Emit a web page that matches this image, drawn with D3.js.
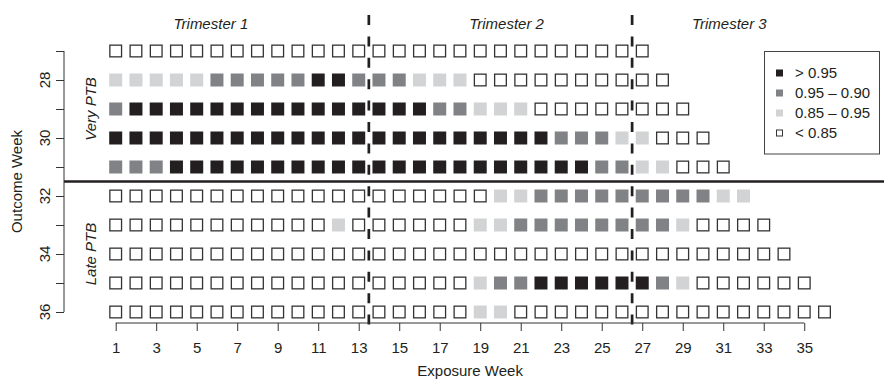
<!DOCTYPE html>
<html>
<head>
<meta charset="utf-8">
<script src="https://cdn.jsdelivr.net/npm/d3@7"></script>
<style>
html,body{margin:0;padding:0;background:#fff;}
svg{display:block;font-family:"Liberation Sans",Arial,Helvetica,sans-serif;}
</style>
</head>
<body>
<svg id="chart" width="884" height="381"></svg>
<script>
// ---- data ----
const outcomeWeeks = [27, 28, 29, 30, 31, 32, 33, 34, 35, 36];
// level codes: 0 = < 0.85, 1 = 0.85 – 0.95, 2 = 0.95 – 0.90, 3 = > 0.95
const row27 = [0,0,0,0,0,0,0,0,0,0, 0,0,0,0,0,0,0,0,0,0, 0,0,0,0,0,0,0];
const row28 = [1,1,1,1,1,2,2,2,2,2, 3,3,2,2,2,1,1,1,0,0, 0,0,0,0,0,0,0,0];
const row29 = [2,3,3,3,3,3,3,3,3,3, 3,3,3,3,3,3,2,2,1,1, 1,0,0,0,0,0,0,0,0];
const row30 = [3,3,3,3,3,3,3,3,3,3, 3,3,3,3,3,3,3,3,3,3, 3,3,2,2,2,1,1,0,0,0];
const row31 = [2,2,2,3,3,3,3,3,3,3, 3,3,3,3,3,3,3,3,3,3, 3,3,3,3,2,2,1,1,0,0, 0];
const row32 = [0,0,0,0,0,0,0,0,0,0, 0,0,0,0,0,0,0,0,0,1, 1,2,2,2,2,2,2,2,2,2, 1,1];
const row33 = [0,0,0,0,0,0,0,0,0,0, 0,1,0,0,0,0,0,0,1,1, 2,2,2,2,2,2,2,2,1,0, 0,0,0];
const row34 = [0,0,0,0,0,0,0,0,0,0, 0,0,0,0,0,0,0,0,0,0, 0,0,0,0,0,0,0,0,0,0, 0,0,0,0];
const row35 = [0,0,0,0,0,0,0,0,0,0, 0,0,0,0,0,0,0,0,1,2, 2,3,3,3,3,3,3,2,1,0, 0,0,0,0,0];
const row36 = [0,0,0,0,0,0,0,0,0,0, 0,0,0,0,0,0,0,0,1,1, 0,0,0,0,0,0,0,0,0,0, 0,0,0,0,0,0];
const rows = [row27, row28, row29, row30, row31, row32, row33, row34, row35, row36];

const legendLabels = ["> 0.95", "0.95 \u2013 0.90", "0.85 \u2013 0.95", "< 0.85"];
const legendLevels = [3, 2, 1, 0];
const xTickWeeks = [1,3,5,7,9,11,13,15,17,19,21,23,25,27,29,31,33,35];
const yTickWeeks = [27,28,29,30,31,32,33,34,35,36];
const yLabelWeeks = [28,30,32,34,36];
const trimesterLabels = ["Trimester 1", "Trimester 2", "Trimester 3"];
const trimesterLabelWeeks = [5.7, 20.3, 31.3];
const trimesterBounds = [13.5, 26.5];
const groupLabels = ["Very PTB", "Late PTB"];
const groupCenters = [29, 34];
const groupBoundary = 31.5;

// ---- styles ----
const fills = ["#ffffff", "#d1d3d4", "#808285", "#231f20"];
const ink = "#231f20";

const svg = d3.select("#chart");
const x = d3.scaleLinear().domain([1, 36]).range([115.7, 824.5]);
const y = d3.scaleLinear().domain([27, 36]).range([51, 312]);

const cells = [];
rows.forEach((r, i) => r.forEach((lv, j) => cells.push({o: outcomeWeeks[i], e: j + 1, lv})));

const S = 13;
svg.append("g").selectAll("rect").data(cells).join("rect")
  .attr("x", d => d.lv === 0 ? x(d.e) - S/2 + 0.65 : x(d.e) - S/2)
  .attr("y", d => d.lv === 0 ? y(d.o) - S/2 + 0.65 : y(d.o) - S/2)
  .attr("width", d => d.lv === 0 ? S - 1.3 : S)
  .attr("height", d => d.lv === 0 ? S - 1.3 : S)
  .attr("fill", d => fills[d.lv])
  .attr("stroke", d => d.lv === 0 ? "#333" : "none")
  .attr("stroke-width", 1.3);

// trimester dashed lines
svg.append("g").selectAll("line").data(trimesterBounds).join("line")
  .attr("x1", d => x(d)).attr("x2", d => x(d))
  .attr("y1", 15).attr("y2", 327)
  .attr("stroke", ink).attr("stroke-width", 2.7)
  .attr("stroke-dasharray", "10,11.4");

// group separator
svg.append("line")
  .attr("x1", 64).attr("x2", 884)
  .attr("y1", y(groupBoundary)).attr("y2", y(groupBoundary))
  .attr("stroke", ink).attr("stroke-width", 2.5);

// y axis
const yAxis = svg.append("g").attr("transform", "translate(64,0)")
  .call(d3.axisLeft(y).tickValues(yTickWeeks).tickSize(8).tickFormat(""));
yAxis.select(".domain").attr("d", `M0,${y(27)}V${y(36)}`).attr("stroke", "#333");
yAxis.selectAll(".tick line").attr("stroke", "#333");
svg.append("g").selectAll("text").data(yLabelWeeks).join("text")
  .attr("transform", d => `translate(50,${y(d)}) rotate(-90)`)
  .attr("text-anchor", "middle")
  .attr("font-size", 15).attr("fill", ink)
  .text(d => d);

// x axis
const xAxis = svg.append("g").attr("transform", "translate(0,323)")
  .call(d3.axisBottom(x).tickValues(xTickWeeks).tickSize(8).tickPadding(11).tickFormat(d => d));
xAxis.select(".domain").attr("d", `M${x(1)},0H${x(35)}`).attr("stroke", "#333");
xAxis.selectAll(".tick line").attr("stroke", "#333");
xAxis.selectAll(".tick text").attr("font-size", 15).attr("fill", ink)
  .attr("font-family", "Liberation Sans, Arial, sans-serif");

// axis titles
svg.append("text").attr("x", x(18.5)).attr("y", 376)
  .attr("text-anchor", "middle").attr("font-size", 15).attr("fill", ink)
  .text("Exposure Week");
svg.append("text").attr("transform", `translate(22,${y(31.5)}) rotate(-90)`)
  .attr("text-anchor", "middle").attr("font-size", 15).attr("fill", ink)
  .text("Outcome Week");

// trimester labels
svg.append("g").selectAll("text").data(trimesterLabels).join("text")
  .attr("x", (d, i) => x(trimesterLabelWeeks[i])).attr("y", 28.5)
  .attr("text-anchor", "middle").attr("font-size", 15).attr("font-style", "italic")
  .attr("fill", ink).text(d => d);

// group labels
svg.append("g").selectAll("text").data(groupLabels).join("text")
  .attr("transform", (d, i) => `translate(96,${y(groupCenters[i])}) rotate(-90)`)
  .attr("text-anchor", "middle").attr("font-size", 15).attr("font-style", "italic")
  .attr("fill", ink).text(d => d);

// legend
const lg = svg.append("g");
lg.append("rect").attr("x", 764.5).attr("y", 51.5).attr("width", 115).attr("height", 102.5)
  .attr("fill", "#fff").attr("stroke", "#444").attr("stroke-width", 1);
legendLabels.forEach((lab, i) => {
  const cy = 73 + i * 20;
  const lv = legendLevels[i];
  lg.append("rect")
    .attr("x", lv === 0 ? 776.5 : 776).attr("y", lv === 0 ? cy - 3 : cy - 3.5)
    .attr("width", lv === 0 ? 6 : 7).attr("height", lv === 0 ? 6 : 7)
    .attr("fill", fills[lv]).attr("stroke", lv === 0 ? "#333" : "none").attr("stroke-width", 1);
  lg.append("text").attr("x", 795).attr("y", cy).attr("dy", "0.35em")
    .attr("font-size", 15).attr("fill", ink).text(lab);
});
</script>
</body>
</html>
